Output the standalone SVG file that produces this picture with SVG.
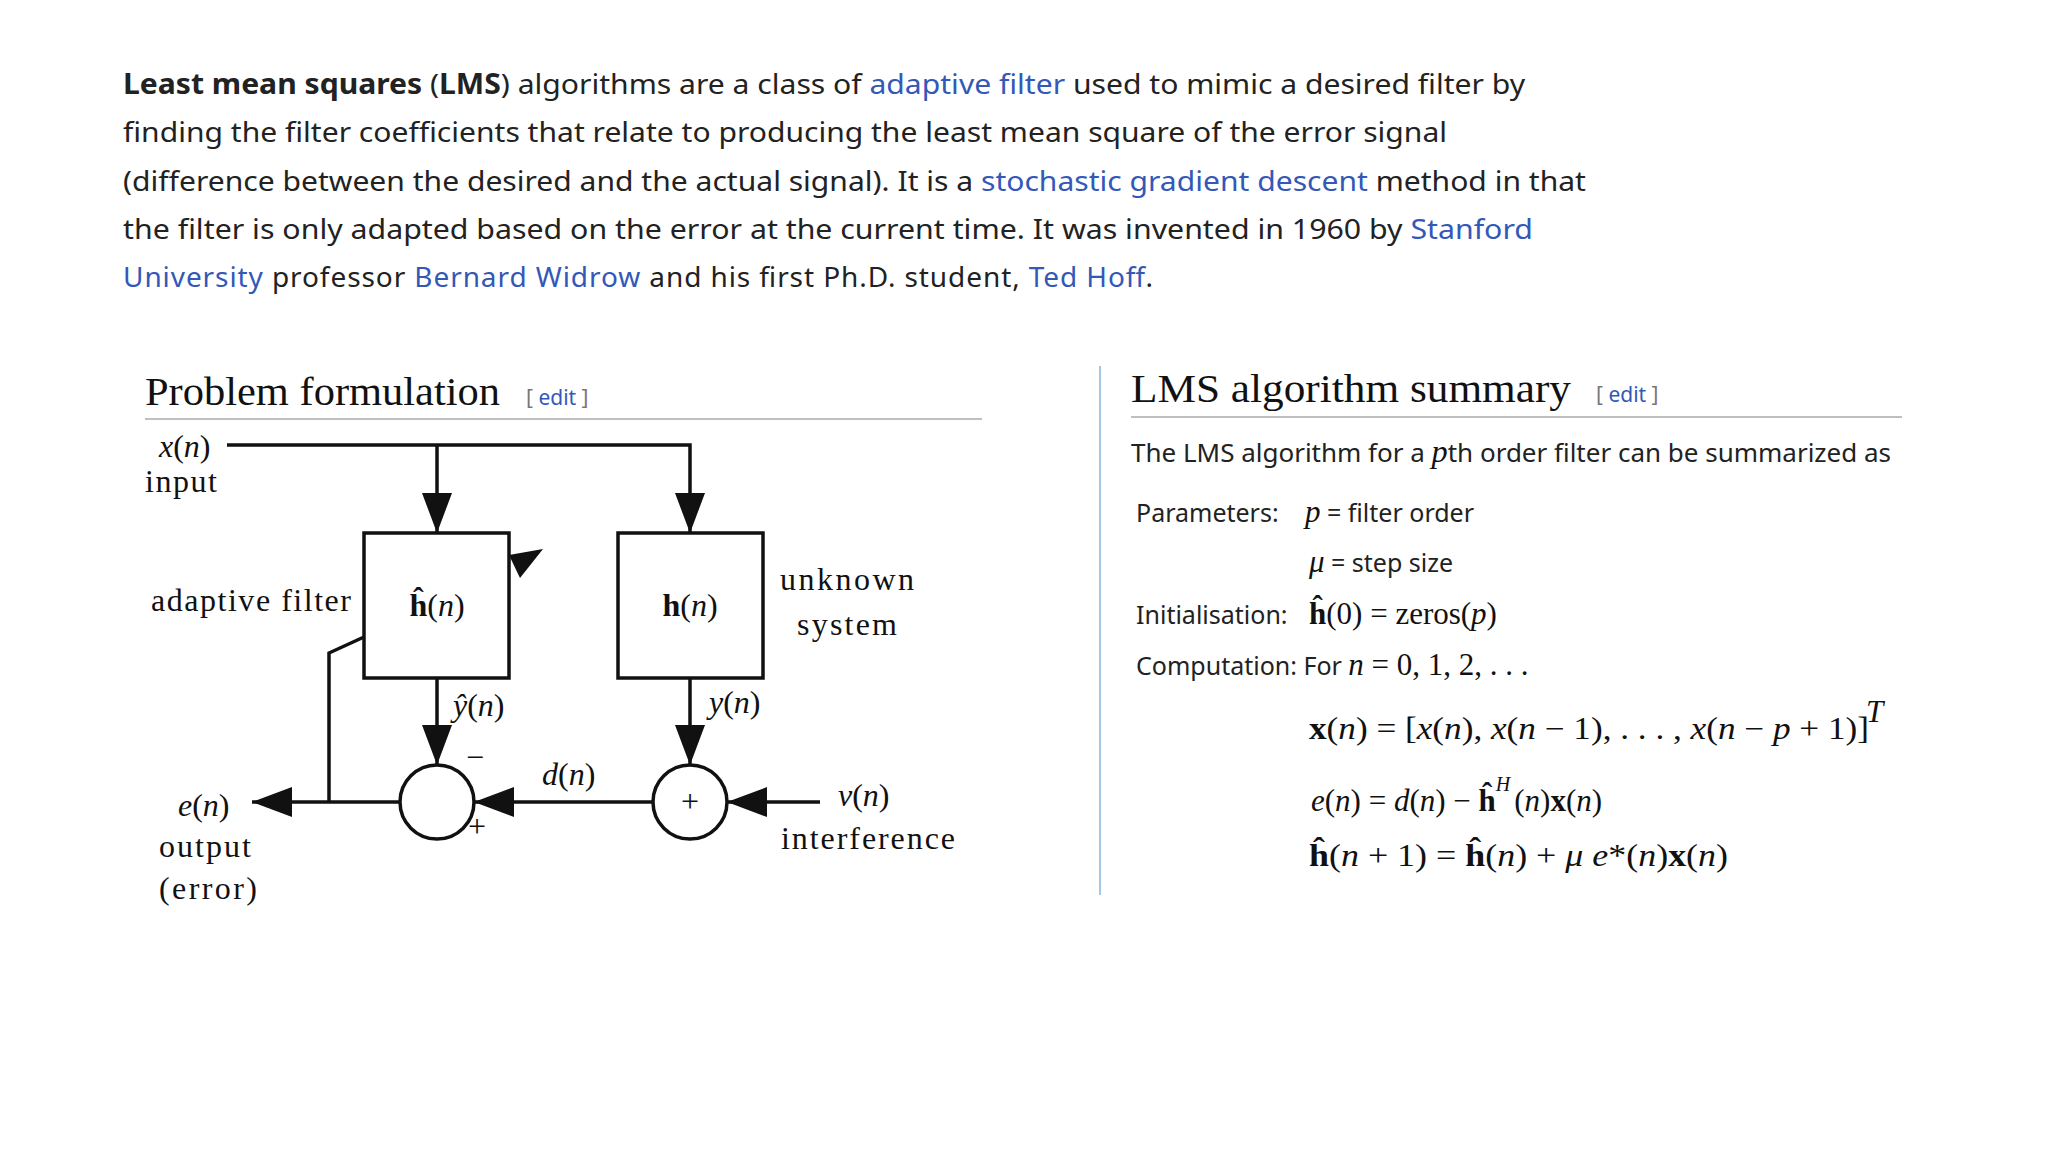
<svg xmlns="http://www.w3.org/2000/svg" width="2048" height="1152" viewBox="0 0 2048 1152">
<style>
.b{font-family:"Noto Sans","Open Sans",sans-serif;font-size:28px;fill:#222}
.a{fill:#3358b8}
.h{font-family:"Liberation Serif",serif;font-size:39px;fill:#111}
.e{font-family:"Noto Sans",sans-serif;font-size:21px;fill:#3358b8}
.eb{fill:#777}
.s{font-family:"Noto Sans",sans-serif;font-size:25px;fill:#222}
.m{font-family:"Liberation Serif",serif;font-size:31px;fill:#111}
.d{font-family:"Liberation Serif",serif;font-size:32px;fill:#111}
.ln{stroke:#111;stroke-width:3.5;fill:none}
</style>
<defs>
<marker id="ah" viewBox="0 0 40 30" refX="40" refY="15" markerWidth="40" markerHeight="30" markerUnits="userSpaceOnUse" orient="auto">
<path d="M0,0 L40,15 L0,30 z" fill="#111"/>
</marker>
</defs>
<rect width="2048" height="1152" fill="#fff"/>
<g id="intro">
<text class="b" x="123" y="94" textLength="1402" lengthAdjust="spacingAndGlyphs"><tspan font-weight="bold">Least mean squares</tspan> (<tspan font-weight="bold">LMS</tspan>) algorithms are a class of <tspan class="a">adaptive filter</tspan> used to mimic a desired filter by</text>
<text class="b" x="123" y="142" textLength="1324" lengthAdjust="spacingAndGlyphs">finding the filter coefficients that relate to producing the least mean square of the error signal</text>
<text class="b" x="123" y="191" textLength="1463" lengthAdjust="spacingAndGlyphs">(difference between the desired and the actual signal). It is a <tspan class="a">stochastic gradient descent</tspan> method in that</text>
<text class="b" x="123" y="239" textLength="1410" lengthAdjust="spacingAndGlyphs">the filter is only adapted based on the error at the current time. It was invented in 1960 by <tspan class="a">Stanford</tspan></text>
<text class="b" x="123" y="287" textLength="1030" lengthAdjust="spacing"><tspan class="a">University</tspan> professor <tspan class="a">Bernard Widrow</tspan> and his first Ph.D. student, <tspan class="a">Ted Hoff</tspan>.</text>
</g>
<g id="headings">
<text class="h" x="145" y="405" textLength="355" lengthAdjust="spacingAndGlyphs">Problem formulation</text>
<text class="e" x="526" y="405"><tspan class="eb">[</tspan> edit <tspan class="eb">]</tspan></text>
<line x1="145" y1="419" x2="982" y2="419" stroke="#aaa" stroke-width="1.5"/>
<line x1="1100" y1="366" x2="1100" y2="895" stroke="#a7c7e7" stroke-width="2"/>
<text class="h" x="1131" y="402" textLength="440" lengthAdjust="spacingAndGlyphs">LMS algorithm summary</text>
<text class="e" x="1596" y="402"><tspan class="eb">[</tspan> edit <tspan class="eb">]</tspan></text>
<line x1="1131" y1="417" x2="1902" y2="417" stroke="#aaa" stroke-width="1.5"/>
</g>
<g id="summary">
<text class="s" x="1131" y="462" textLength="760" lengthAdjust="spacingAndGlyphs">The LMS algorithm for a <tspan class="m" font-style="italic">p</tspan>th order filter can be summarized as</text>
<text class="s" x="1136" y="522">Parameters:</text>
<text class="s" x="1305" y="522"><tspan class="m" font-style="italic">p</tspan> = filter order</text>
<text class="s" x="1309" y="572"><tspan class="m" font-style="italic">μ</tspan> = step size</text>
<text class="s" x="1136" y="624">Initialisation:</text>
<text class="m" x="1309" y="624"><tspan font-weight="bold">ĥ</tspan>(0) = zeros(<tspan font-style="italic">p</tspan>)</text>
<text class="s" x="1136" y="675">Computation: For <tspan class="m" font-style="italic">n</tspan><tspan class="m"> = 0, 1, 2, . . .</tspan></text>
<text class="m" x="1309" y="739" textLength="560" lengthAdjust="spacingAndGlyphs"><tspan font-weight="bold">x</tspan>(<tspan font-style="italic">n</tspan>) = [<tspan font-style="italic">x</tspan>(<tspan font-style="italic">n</tspan>), <tspan font-style="italic">x</tspan>(<tspan font-style="italic">n</tspan> − 1), . . . , <tspan font-style="italic">x</tspan>(<tspan font-style="italic">n</tspan> − <tspan font-style="italic">p</tspan> + 1)]</text>
<text class="m" x="1866" y="722" font-size="20" font-style="italic">T</text>
<text class="m" x="1311" y="811"><tspan font-style="italic">e</tspan>(<tspan font-style="italic">n</tspan>) = <tspan font-style="italic">d</tspan>(<tspan font-style="italic">n</tspan>) − <tspan font-weight="bold">ĥ</tspan><tspan font-size="20" font-style="italic" dy="-20">H</tspan><tspan dy="20" dx="4">(</tspan><tspan font-style="italic">n</tspan>)<tspan font-weight="bold">x</tspan>(<tspan font-style="italic">n</tspan>)</text>
<text class="m" x="1309" y="866" textLength="419" lengthAdjust="spacingAndGlyphs"><tspan font-weight="bold">ĥ</tspan>(<tspan font-style="italic">n</tspan> + 1) = <tspan font-weight="bold">ĥ</tspan>(<tspan font-style="italic">n</tspan>) + <tspan font-style="italic">μ e</tspan>*(<tspan font-style="italic">n</tspan>)<tspan font-weight="bold">x</tspan>(<tspan font-style="italic">n</tspan>)</text>
</g>
<g id="connectors">
<polyline class="ln" points="227,445 690,445 690,533" marker-end="url(#ah)"/>
<line class="ln" x1="437" y1="445" x2="437" y2="533" marker-end="url(#ah)"/>
<line class="ln" x1="437" y1="678" x2="437" y2="765" marker-end="url(#ah)"/>
<line class="ln" x1="690" y1="678" x2="690" y2="765" marker-end="url(#ah)"/>
<line class="ln" x1="653" y1="802" x2="474" y2="802" marker-end="url(#ah)"/>
<line class="ln" x1="820" y1="802" x2="727" y2="802" marker-end="url(#ah)"/>
<line class="ln" x1="400" y1="802" x2="252" y2="802" marker-end="url(#ah)"/>
<polyline class="ln" points="329,802 329,653 364,637"/>
<path d="M509,555 L543,549 L520,578 z" fill="#111"/>
</g>
<g id="adaptive-filter">
<rect class="ln" x="364" y="533" width="145" height="145" fill="#fff"/>
<text class="d" x="437" y="616" text-anchor="middle"><tspan font-weight="bold">ĥ</tspan>(<tspan font-style="italic">n</tspan>)</text>
<text class="d" x="151" y="611" textLength="200">adaptive filter</text>
</g>
<g id="unknown-system">
<rect class="ln" x="618" y="533" width="145" height="145" fill="#fff"/>
<text class="d" x="690" y="616" text-anchor="middle"><tspan font-weight="bold">h</tspan>(<tspan font-style="italic">n</tspan>)</text>
<text class="d" x="780" y="590" textLength="134">unknown</text>
<text class="d" x="797" y="635" textLength="100">system</text>
</g>
<g id="sum-error">
<circle class="ln" cx="437" cy="802" r="37" fill="#fff"/>
<text class="d" x="466" y="768" font-size="28">−</text>
<text class="d" x="468" y="837" font-size="28">+</text>
</g>
<g id="sum-interference">
<circle class="ln" cx="690" cy="802" r="37" fill="#fff"/>
<text class="d" x="690" y="812" font-size="28" text-anchor="middle">+</text>
</g>
<g id="labels">
<text class="d" x="159" y="457"><tspan font-style="italic">x</tspan>(<tspan font-style="italic">n</tspan>)</text>
<text class="d" x="145" y="492" textLength="72">input</text>
<text class="d" x="453" y="716"><tspan font-style="italic">ŷ</tspan>(<tspan font-style="italic">n</tspan>)</text>
<text class="d" x="709" y="713"><tspan font-style="italic">y</tspan>(<tspan font-style="italic">n</tspan>)</text>
<text class="d" x="542" y="785"><tspan font-style="italic">d</tspan>(<tspan font-style="italic">n</tspan>)</text>
<text class="d" x="838" y="806"><tspan font-style="italic">v</tspan>(<tspan font-style="italic">n</tspan>)</text>
<text class="d" x="781" y="849" textLength="174">interference</text>
<text class="d" x="178" y="816"><tspan font-style="italic">e</tspan>(<tspan font-style="italic">n</tspan>)</text>
<text class="d" x="159" y="857" textLength="92">output</text>
<text class="d" x="159" y="899" textLength="98">(error)</text>
</g>
</svg>
